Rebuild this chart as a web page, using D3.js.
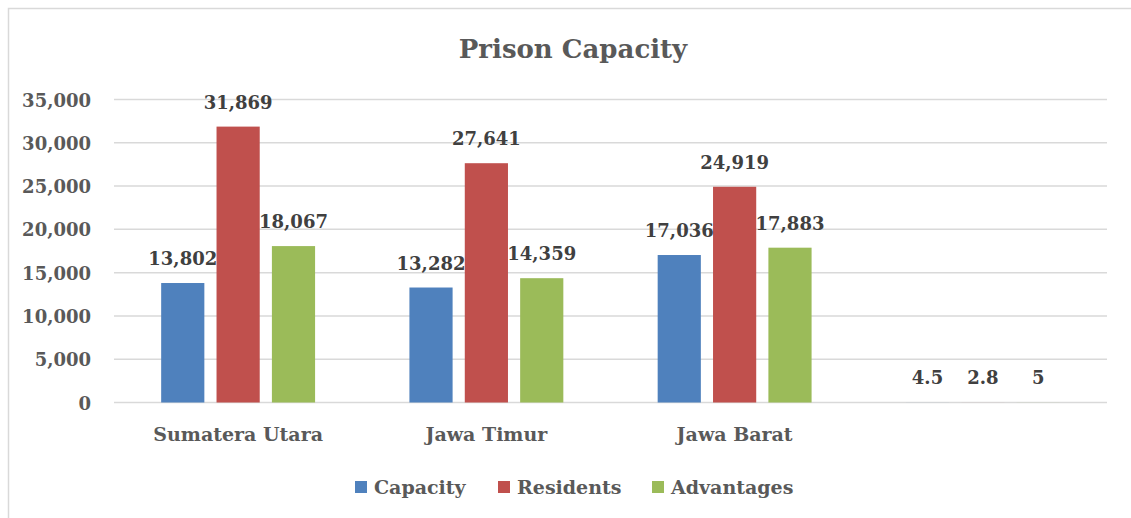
<!DOCTYPE html>
<html>
<head>
  <meta charset="utf-8">
  <style>
    html, body { margin: 0; overflow: hidden; background: #fff; }
    svg { display: block; }
    text { font-family: "DejaVu Serif", "Liberation Serif", serif; font-weight: bold; }
    .grid line { stroke: #d9d9d9; stroke-width: 1.5px; }
    .tick-label { fill: #595959; font-size: 18px; }
    .cat-label { fill: #595959; font-size: 19px; }
    .val-label { fill: #404040; font-size: 18px; }
  </style>
  <script src="https://d3js.org/d3.v7.min.js"></script>
</head>
<body>
  <svg id="chart" width="1131" height="518"></svg>
  <script>
    var categories = ["Sumatera Utara", "Jawa Timur", "Jawa Barat", ""];
    var seriesNames = ["Capacity", "Residents", "Advantages"];
    var capacity = [13802, 13282, 17036, 4.5];
    var residents = [31869, 27641, 24919, 2.8];
    var advantages = [18067, 14359, 17883, 5];
    var yTicks = [0, 5000, 10000, 15000, 20000, 25000, 30000, 35000];
    var colors = ["#4f81bd", "#c0504d", "#9bbb59"];

    var series = [capacity, residents, advantages];
    var svg = d3.select("#chart");

    // chart frame
    svg.append("rect")
      .attr("x", 8.5).attr("y", 8.5)
      .attr("width", 1140).attr("height", 520)
      .attr("fill", "#fff")
      .attr("stroke", "#d9d9d9")
      .attr("stroke-width", 1.5);

    var plotLeft = 114, plotRight = 1107, plotTop = 99.5, plotBottom = 402.5;

    var x0 = d3.scaleBand().domain(d3.range(categories.length))
      .range([plotLeft, plotRight]).paddingInner(0.38).paddingOuter(0.19);
    var x1 = d3.scaleBand().domain(d3.range(seriesNames.length))
      .range([0, x0.bandwidth()]).paddingInner(0.22);
    var y = d3.scaleLinear().domain([0, 35000]).range([plotBottom, plotTop]);

    svg.append("text")
      .attr("x", 573).attr("y", 58)
      .attr("text-anchor", "middle")
      .attr("fill", "#595959")
      .style("font-size", "26px")
      .text("Prison Capacity");

    var grid = svg.append("g").attr("class", "grid");
    grid.selectAll("line").data(yTicks).enter().append("line")
      .attr("x1", plotLeft).attr("x2", plotRight)
      .attr("y1", function(d) { return y(d); })
      .attr("y2", function(d) { return y(d); });

    svg.append("g").selectAll("text").data(yTicks).enter().append("text")
      .attr("class", "tick-label")
      .attr("x", 91)
      .attr("y", function(d) { return y(d) + 7; })
      .attr("text-anchor", "end")
      .text(function(d) { return d3.format(",")(d); });

    var groups = svg.append("g").selectAll("g").data(categories).enter().append("g")
      .attr("transform", function(d, i) { return "translate(" + x0(i) + ",0)"; });

    groups.selectAll("rect")
      .data(function(d, i) { return series.map(function(s, k) { return {k: k, v: s[i]}; }); })
      .enter().append("rect")
      .attr("x", function(d) { return x1(d.k); })
      .attr("y", function(d) { return y(d.v); })
      .attr("width", x1.bandwidth())
      .attr("height", function(d) { return y(0) - y(d.v); })
      .attr("fill", function(d) { return colors[d.k]; });

    groups.selectAll(".val-label")
      .data(function(d, i) { return series.map(function(s, k) { return {k: k, v: s[i]}; }); })
      .enter().append("text")
      .attr("class", "val-label")
      .attr("x", function(d) { return x1(d.k) + x1.bandwidth() / 2; })
      .attr("y", function(d) { return y(d.v) - 18; })
      .attr("text-anchor", "middle")
      .text(function(d) { return d.v >= 1000 ? d3.format(",")(d.v) : d.v; });

    groups.append("text")
      .attr("class", "cat-label")
      .attr("x", x0.bandwidth() / 2)
      .attr("y", 441)
      .attr("text-anchor", "middle")
      .text(function(d) { return d; });

    // legend
    var legend = svg.append("g");
    var legendX = [355, 498, 652];
    seriesNames.forEach(function(name, k) {
      legend.append("rect")
        .attr("x", legendX[k]).attr("y", 481)
        .attr("width", 12).attr("height", 12)
        .attr("fill", colors[k]);
      legend.append("text")
        .attr("class", "cat-label")
        .attr("x", legendX[k] + 19).attr("y", 494)
        .text(name);
    });
  </script>
</body>
</html>
